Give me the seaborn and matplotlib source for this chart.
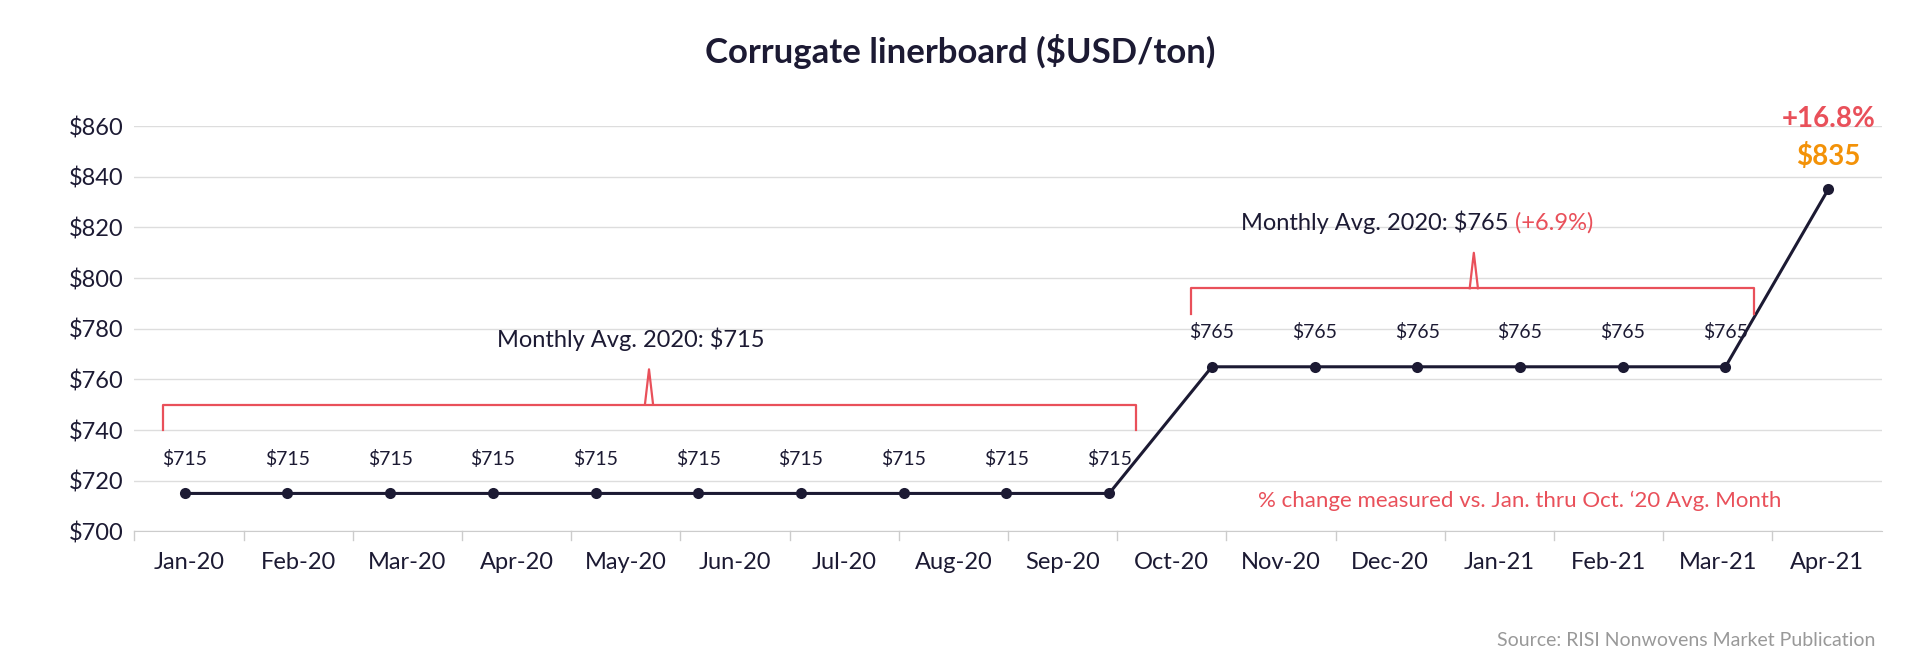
import matplotlib.pyplot as plt
import seaborn as sns
import pandas as pd

months = ['Jan-20', 'Feb-20', 'Mar-20', 'Apr-20', 'May-20', 'Jun-20', 'Jul-20', 'Aug-20',
          'Sep-20', 'Oct-20', 'Nov-20', 'Dec-20', 'Jan-21', 'Feb-21', 'Mar-21', 'Apr-21']
prices = [715] * 10 + [765] * 6 + [835]
value_labels = ['$715'] * 10 + ['$765'] * 6

NAVY = '#1c1a33'
RED = '#e9505a'
ORANGE = '#f39208'
plt.rcParams['font.family'] = 'Lato'

df = pd.DataFrame({'i': range(len(prices)), 'price': prices})

fig = plt.figure(figsize=(19.2, 6.71), dpi=100)
ax = fig.add_axes([0.070, 0.208, 0.910, 0.604])
sns.lineplot(data=df, x='i', y='price', ax=ax, color=NAVY, lw=2.2,
             marker='o', markersize=8, markeredgewidth=0)

ax.set_xlim(-0.49, 16.52)
ax.set_ylim(700, 860)
ax.set_yticks(range(700, 861, 20))
ax.set_yticklabels([f'${v}' for v in range(700, 861, 20)], fontsize=17, color=NAVY)
ax.yaxis.grid(True, color='#dddddd', lw=1)
ax.set_axisbelow(True)
ax.tick_params(axis='y', length=0, pad=8)
ax.set_xticks([])
ax.set_xlabel('')
ax.set_ylabel('')
for s in ['top', 'right', 'left']:
    ax.spines[s].set_visible(False)
ax.spines['bottom'].set_color('#cccccc')

# category labels spread evenly across the axis width
n = len(months)
for k, m in enumerate(months):
    ax.text((k + 0.5) / n, -0.05, m, transform=ax.transAxes, ha='center', va='top',
            fontsize=17, color=NAVY)
    ax.plot([k / n, k / n], [0, -0.02], transform=ax.transAxes, color='#cccccc',
            lw=1, clip_on=False)

for i, lab in enumerate(value_labels):
    ax.text(i, prices[i] + 10, lab, ha='center', va='bottom', fontsize=14, color=NAVY)

# brackets
def bracket(x0, x1, xm, y, drop, rise):
    ax.plot([x0, x0, x1, x1], [y - drop, y, y, y - drop], color=RED, lw=1.6)
    ax.plot([xm - 0.04, xm, xm + 0.04], [y, y + rise, y], color=RED, lw=1.6)

bracket(-0.21, 9.26, 4.52, 750, 10, 14)
bracket(9.80, 15.28, 12.55, 796, 10, 14)

ax.text(4.34, 776, 'Monthly Avg. 2020: $715', ha='center', va='center', fontsize=17, color=NAVY)
t = ax.text(12.95, 822, 'Monthly Avg. 2020: $765 ', ha='right', va='center', fontsize=17, color=NAVY)
ax.text(12.95, 822, '(+6.9%)', ha='left', va='center', fontsize=17, color=RED)
ax.text(13.0, 712, '% change measured vs. Jan. thru Oct. \u201820 Avg. Month', ha='center',
        va='center', fontsize=16, color=RED)
ax.text(16, 863, '+16.8%', ha='center', va='center', fontsize=20, color=RED, fontweight='bold')
ax.text(16, 848, '$835', ha='center', va='center', fontsize=20, color=ORANGE, fontweight='bold')

fig.text(0.5, 0.923, 'Corrugate linerboard ($USD/ton)', ha='center', va='center',
         fontsize=25, color=NAVY, fontweight='bold')
fig.text(0.977, 0.045, 'Source: RISI Nonwovens Market Publication', ha='right', va='center',
         fontsize=14, color='#999999')

fig.savefig('out.png', dpi=100, facecolor='white')
